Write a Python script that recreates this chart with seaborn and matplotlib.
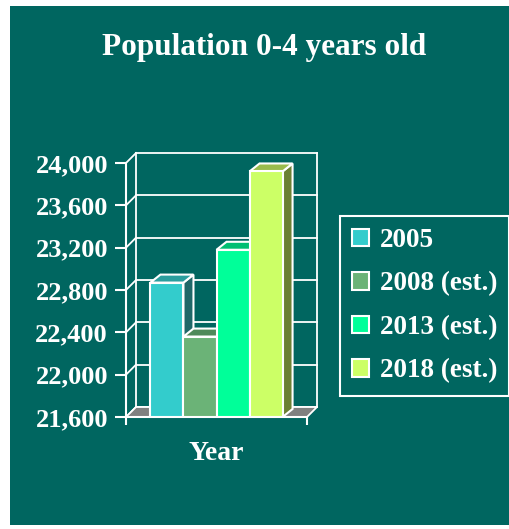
import numpy as np
import pandas as pd
import matplotlib
matplotlib.use("Agg")
import matplotlib.pyplot as plt
import matplotlib.transforms as mtrans
from matplotlib.patches import Polygon, Patch, Rectangle
from matplotlib.ticker import FuncFormatter
import seaborn as sns

# ---- data ----
title = "Population 0-4 years old"
category = ["Year"]
series = ["2005", "2008 (est.)", "2013 (est.)", "2018 (est.)"]
values = [22870, 22360, 23180, 23920]
front_colors = ["#33CCCC", "#6BB377", "#00FF99", "#CCFF66"]
top_colors = ["#2A9E9E", "#4F8A5A", "#00BF73", "#9ABB4C"]
side_colors = ["#1F6868", "#3F6E48", "#009A5C", "#6B8033"]
y_ticks = [21600, 22000, 22400, 22800, 23200, 23600, 24000]

BG = "#006660"
W, H = 510, 529
DPI = 100
WALL_DX, WALL_DY = 10, 10
BAR_DX, BAR_DY = 10, 8

plt.rcParams["font.family"] = ["Liberation Serif", "DejaVu Serif"]
plt.rcParams["font.weight"] = "bold"

fig = plt.figure(figsize=(W / DPI, H / DPI), dpi=DPI, facecolor="white")
fig.patches.append(Rectangle((10 / W, 4 / H), 500 / W, 519 / H,
                             transform=fig.transFigure, facecolor=BG,
                             edgecolor="none", zorder=-10))

ax = fig.add_axes([126 / W, (H - 417) / H, 181 / W, 254 / H])
ax.set_facecolor("none")

df = pd.DataFrame({"cat": category * len(series), "series": series, "value": values})
sns.barplot(data=df, x="cat", y="value", hue="series", hue_order=series,
            palette=front_colors, saturation=1, width=0.73,
            edgecolor="white", linewidth=1.5, legend=False, ax=ax)

ax.set_xlim(-0.5, 0.5)
ax.set_ylim(y_ticks[0], y_ticks[-1])

ident = mtrans.IdentityTransform()
base = y_ticks[0]

# back wall
off = mtrans.offset_copy(ax.transData, fig=fig, x=WALL_DX, y=WALL_DY, units="dots")
for v in y_ticks:
    ax.plot([-0.5, 0.5], [v, v], transform=off, color="white", lw=1.3,
            clip_on=False, zorder=0.5)
for xv in (-0.5, 0.5):
    ax.plot([xv, xv], [y_ticks[0], y_ticks[-1]], transform=off, color="white",
            lw=1.3, clip_on=False, zorder=0.5)
# left wall diagonals
for v in y_ticks:
    px, py = ax.transData.transform((-0.5, v))
    ax.plot([px, px + WALL_DX], [py, py + WALL_DY], transform=ident,
            color="white", lw=1.3, clip_on=False, zorder=0.6)

# floor
fl = ax.transData.transform((-0.5, base))
fr = ax.transData.transform((0.5, base))
floor = Polygon([fl, fr, (fr[0] + WALL_DX, fr[1] + WALL_DY),
                 (fl[0] + WALL_DX, fl[1] + WALL_DY)], closed=True,
                transform=ident, facecolor="#808080", edgecolor="white",
                lw=1.3, clip_on=False, zorder=0.8)
ax.add_patch(floor)

# 3D bar faces
for i, cont in enumerate(ax.containers):
    for rect in cont:
        x0 = rect.get_x()
        x1 = x0 + rect.get_width()
        top = rect.get_y() + rect.get_height()
        px0, pyt = ax.transData.transform((x0, top))
        px1, pyb = ax.transData.transform((x1, base))
        z = 2 + 3 * i
        side = Polygon([(px1, pyb), (px1, pyt), (px1 + BAR_DX, pyt + BAR_DY),
                        (px1 + BAR_DX, pyb + BAR_DY)], closed=True, transform=ident,
                       facecolor=side_colors[i], edgecolor="white", lw=1.5,
                       clip_on=False, zorder=z)
        topf = Polygon([(px0, pyt), (px1, pyt), (px1 + BAR_DX, pyt + BAR_DY),
                        (px0 + BAR_DX, pyt + BAR_DY)], closed=True, transform=ident,
                       facecolor=top_colors[i], edgecolor="white", lw=1.5,
                       clip_on=False, zorder=z + 0.5)
        ax.add_patch(side)
        ax.add_patch(topf)
        rect.set_zorder(z + 1)

# axes styling
for s in ("top", "right"):
    ax.spines[s].set_visible(False)
for s in ("left", "bottom"):
    ax.spines[s].set_color("white")
    ax.spines[s].set_linewidth(1.5)
    ax.spines[s].set_zorder(20)
ax.set_yticks(y_ticks)
ax.yaxis.set_major_formatter(FuncFormatter(lambda v, p: f"{int(v):,}"))
ax.set_xticks([-0.5, 0.5])
ax.set_xticklabels([])
ax.tick_params(axis="y", left=True, direction="out", length=8, width=1.5,
               color="white", labelcolor="white", labelsize=19, pad=5)
ax.tick_params(axis="x", bottom=True, direction="out", length=6, width=1.5,
               color="white")
ax.set_ylabel("")
ax.set_xlabel("Year", color="white", fontsize=20, fontweight="bold", labelpad=8)

fig.text(264 / W, 1 - 48 / H, title, ha="center", va="center", fontsize=22.5,
         color="white", fontweight="bold")

handles = [Patch(facecolor=c, edgecolor="white", linewidth=1.5) for c in front_colors]
leg = fig.legend(handles, series, loc="upper left",
                 bbox_to_anchor=(340 / W, 1 - 216 / H), bbox_transform=fig.transFigure,
                 frameon=True, fancybox=False, facecolor=BG, edgecolor="white",
                 framealpha=1, fontsize=19.5, labelcolor="white", handlelength=0.62,
                 handleheight=0.62, handletextpad=0.4, labelspacing=0.68,
                 borderpad=0.45, borderaxespad=0)
leg.get_frame().set_linewidth(1.5)

fig.savefig("out.png", dpi=DPI, facecolor="white")
